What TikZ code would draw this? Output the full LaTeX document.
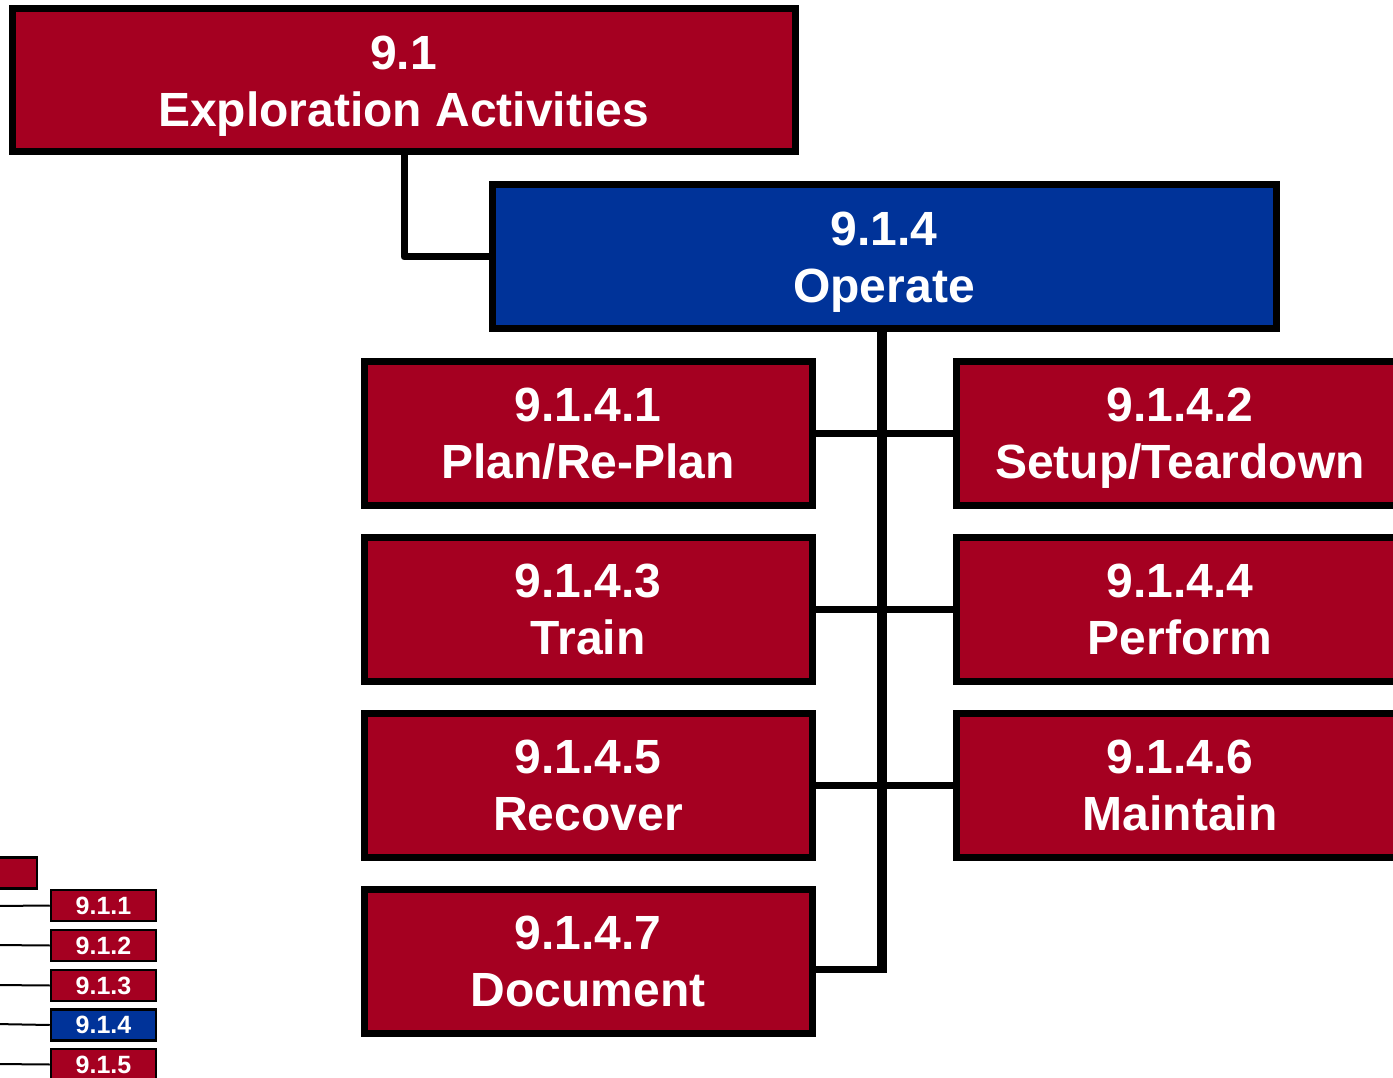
\documentclass[tikz,border=0pt]{standalone}
\usepackage{fontspec}
\setmainfont{Liberation Sans}
\definecolor{wbsred}{RGB}{165,0,33}
\definecolor{wbsblue}{RGB}{0,51,153}
\tikzset{
  bigbox/.style={draw=black, line width=7pt, fill=wbsred, inner sep=0pt,
    minimum width=448pt, minimum height=144pt},
  boxtext/.style={text=white, inner sep=0pt, align=center, yshift=-6pt,
    font=\fontsize{48}{57}\selectfont\bfseries},
  smallbox/.style={draw=black, line width=2.5pt, fill=wbsred, text=white, inner sep=0pt,
    minimum width=105pt, minimum height=31pt,
    font=\fontsize{25}{30}\selectfont\bfseries},
  branch/.style={line width=7pt},
  trunk/.style={line width=10pt},
  thin/.style={line width=2pt}
}
\newcommand{\two}[2]{\strut #1\\\strut #2}
\begin{document}
\begin{tikzpicture}[x=1pt,y=-1pt]
\useasboundingbox (0,0) rectangle (1393,1078);
\clip (0,0) rectangle (1393,1078);
\fill[white] (0,0) rectangle (1393,1078);

\coordinate (j1) at (404,257);
\coordinate (tb) at (882,969);

\node[bigbox, minimum width=783pt, minimum height=143pt,
  label={[boxtext]center:\two{9.1}{Exploration Activities}}] (root) at (403.5,80.5) {};
\node[bigbox, fill=wbsblue, minimum width=784pt, minimum height=143pt,
  label={[boxtext]center:\two{9.1.4}{Operate}}] (op) at (884,256.5) {};

\node[bigbox, label={[boxtext]center:\two{9.1.4.1}{Plan/Re-Plan}}] (c1) at (588,433) {};
\node[bigbox, label={[boxtext]center:\two{9.1.4.2}{Setup/Teardown}}] (c2) at (1180,433) {};
\node[bigbox, label={[boxtext]center:\two{9.1.4.3}{Train}}] (c3) at (588,609) {};
\node[bigbox, label={[boxtext]center:\two{9.1.4.4}{Perform}}] (c4) at (1180,609) {};
\node[bigbox, label={[boxtext]center:\two{9.1.4.5}{Recover}}] (c5) at (588,785) {};
\node[bigbox, label={[boxtext]center:\two{9.1.4.6}{Maintain}}] (c6) at (1180,785) {};
\node[bigbox, label={[boxtext]center:\two{9.1.4.7}{Document}}] (c7) at (588,961) {};

\begin{scope}[line join=round]
\draw[branch] (root.south -| j1) -- (j1) -- (j1 -| op.west);
\draw[trunk] (op.south -| tb) -- ([yshift=-3.5pt]tb);
\draw[branch] (tb) -- (tb -| c7.east);
\draw[branch] (c1.east) -- (c2.west);
\draw[branch] (c3.east) -- (c4.west);
\draw[branch] (c5.east) -- (c6.west);
\end{scope}

% mini map
\node[draw=black, line width=2.5pt, fill=wbsred, inner sep=0pt, minimum width=57pt, minimum height=31pt] (mroot) at (8.5,873) {};
\node[smallbox] (m1) at (103.5,905.5) {9.1.1};
\node[smallbox] (m2) at (103.5,945.5) {9.1.2};
\node[smallbox] (m3) at (103.5,985.5) {9.1.3};
\node[smallbox, fill=wbsblue] (m4) at (103.5,1025) {9.1.4};
\node[smallbox] (m5) at (103.5,1064.5) {9.1.5};
\coordinate (l1) at (-5,906);
\coordinate (l2) at (-5,945);
\coordinate (l3) at (-5,985);
\coordinate (l4) at (-5,1024);
\coordinate (l5) at (-5,1064);
\draw[thin] (l1) -- (m1.west);
\draw[thin] (l2) -- (m2.west);
\draw[thin] (l3) -- (m3.west);
\draw[thin] (l4) -- (m4.west);
\draw[thin] (l5) -- (m5.west);
\end{tikzpicture}
\end{document}
